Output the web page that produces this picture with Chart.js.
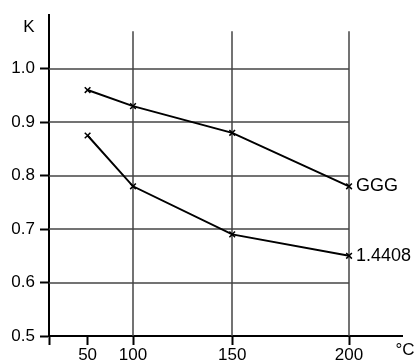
<!DOCTYPE html>
<html>
<head>
<meta charset="utf-8">
<script src="https://cdn.jsdelivr.net/npm/chart.js@4.4.0/dist/chart.umd.min.js"></script>
<style>
  html, body { margin: 0; padding: 0; background: #fff; }
</style>
</head>
<body>
<canvas id="myChart" width="416" height="363"></canvas>
<script>
// data
var temps = [50, 100, 150, 200];
var gggK = [0.96, 0.93, 0.88, 0.78];
var steelK = [0.875, 0.78, 0.69, 0.65];
var seriesNames = ['GGG', '1.4408'];
var xTicks = [0, 50, 100, 150, 200];
var yTicks = [0.5, 0.6, 0.7, 0.8, 0.9, 1.0];
var xGrid = [100, 150, 200];
var yGrid = [0.6, 0.7, 0.8, 0.9, 1.0];

var FONT = '"Liberation Sans", Arial, sans-serif';

// the temperature axis in the original is not evenly spaced,
// so map values piecewise between calibration points
class BentScale extends Chart.LinearScale {
    getPixelForValue(value) {
        if (value === null || value === undefined) return NaN;
        var b = this.options.bends;
        var i = 1;
        while (i < b.length - 1 && value > b[i][0]) i++;
        var t = (value - b[i - 1][0]) / (b[i][0] - b[i - 1][0]);
        var dec = b[i - 1][1] + t * (b[i][1] - b[i - 1][1]);
        return this.getPixelForDecimal(dec);
    }
    getValueForPixel(pixel) {
        var b = this.options.bends;
        var dec = this.getDecimalForPixel(pixel);
        var i = 1;
        while (i < b.length - 1 && dec > b[i][1]) i++;
        var t = (dec - b[i - 1][1]) / (b[i][1] - b[i - 1][1]);
        return b[i - 1][0] + t * (b[i][0] - b[i - 1][0]);
    }
}
BentScale.id = 'bent';
BentScale.defaults = {};
Chart.register(BentScale);

var extras = {
    id: 'extras',
    beforeDatasetsDraw: function(chart) {
        var ctx = chart.ctx;
        var x = chart.scales.x, y = chart.scales.y;
        var top = y.getPixelForValue(1.07);
        var right = x.getPixelForValue(200);
        ctx.save();
        ctx.strokeStyle = '#444';
        ctx.lineWidth = 1.5;
        xGrid.forEach(function(v) {
            var px = Math.round(x.getPixelForValue(v));
            ctx.beginPath();
            ctx.moveTo(px, top);
            ctx.lineTo(px, y.bottom);
            ctx.stroke();
        });
        yGrid.forEach(function(v) {
            var py = Math.round(y.getPixelForValue(v));
            ctx.beginPath();
            ctx.moveTo(x.left, py);
            ctx.lineTo(right, py);
            ctx.stroke();
        });
        ctx.restore();
    },
    afterDatasetsDraw: function(chart) {
        var ctx = chart.ctx;
        var area = chart.chartArea;
        ctx.save();
        ctx.fillStyle = '#000';
        ctx.textBaseline = 'middle';
        ctx.textAlign = 'left';
        ctx.font = '18px ' + FONT;
        chart.data.datasets.forEach(function(ds, i) {
            var pts = chart.getDatasetMeta(i).data;
            var last = pts[pts.length - 1];
            ctx.fillText(seriesNames[i], last.x + 7, last.y);
        });
        ctx.font = '17px ' + FONT;
        ctx.textAlign = 'center';
        ctx.fillText('K', area.left - 20, area.top + 12);
        ctx.fillText('°C', area.right + 3, area.bottom + 14);
        ctx.restore();
    }
};

var ctx = document.getElementById('myChart').getContext('2d');
var myChart = new Chart(ctx, {
    type: 'line',
    data: {
        datasets: [{
            label: seriesNames[0],
            data: temps.map(function(t, i) { return { x: t, y: gggK[i] }; }),
            borderColor: '#000',
            borderWidth: 2,
            pointStyle: 'crossRot',
            pointRadius: 4,
            pointBorderWidth: 1.5,
            pointBorderColor: '#000',
            fill: false,
            tension: 0
        }, {
            label: seriesNames[1],
            data: temps.map(function(t, i) { return { x: t, y: steelK[i] }; }),
            borderColor: '#000',
            borderWidth: 2,
            pointStyle: 'crossRot',
            pointRadius: 4,
            pointBorderWidth: 1.5,
            pointBorderColor: '#000',
            fill: false,
            tension: 0
        }]
    },
    options: {
        responsive: false,
        animation: false,
        layout: { padding: { top: 11, right: 14, left: 0, bottom: 0 } },
        plugins: {
            legend: { display: false },
            tooltip: { enabled: false }
        },
        scales: {
            x: {
                type: 'bent',
                min: 0,
                max: 223,
                bends: [[0, 0], [50, 0.1093], [100, 0.238], [150, 0.519], [200, 0.85], [223, 1]],
                afterBuildTicks: function(s) {
                    s.ticks = xTicks.map(function(v) { return { value: v }; });
                },
                afterFit: function(s) { s.height = 27; },
                ticks: {
                    color: '#000',
                    font: { family: FONT, size: 17 },
                    padding: 0,
                    maxRotation: 0,
                    autoSkip: false,
                    callback: function(v) { return v === 0 ? '' : String(v); }
                },
                grid: {
                    drawOnChartArea: false,
                    drawTicks: true,
                    tickLength: 9,
                    tickWidth: 2,
                    tickColor: '#000'
                },
                border: { color: '#000', width: 2 }
            },
            y: {
                type: 'linear',
                min: 0.5,
                max: 1.1,
                afterBuildTicks: function(s) {
                    s.ticks = yTicks.map(function(v) { return { value: v }; });
                },
                afterFit: function(s) { s.width = 49; },
                ticks: {
                    color: '#000',
                    font: { family: FONT, size: 17 },
                    padding: 5,
                    callback: function(v) { return v.toFixed(1); }
                },
                grid: {
                    drawOnChartArea: false,
                    drawTicks: true,
                    tickLength: 9,
                    tickWidth: 2,
                    tickColor: '#000'
                },
                border: { color: '#000', width: 2 }
            }
        }
    },
    plugins: [extras]
});
</script>
</body>
</html>
